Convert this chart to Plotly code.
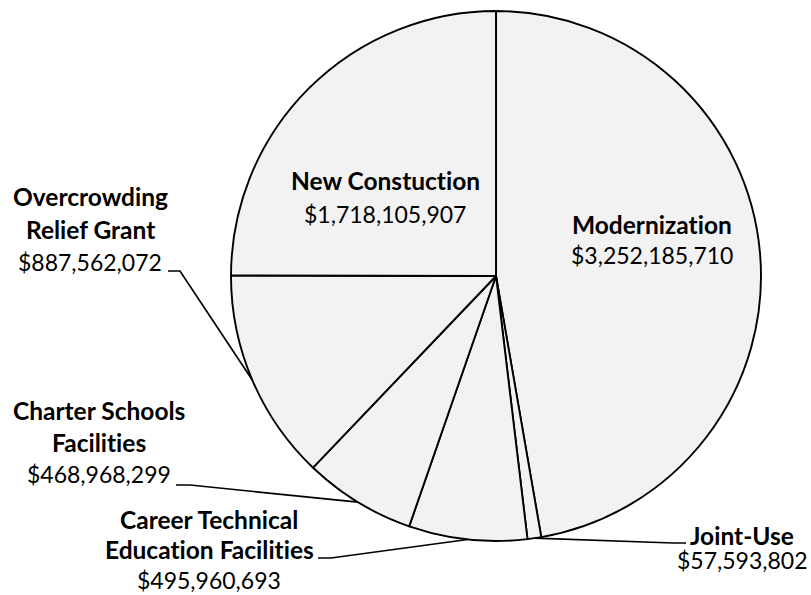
import math
import plotly.graph_objects as go

# ---- data ----
categories = ["Modernization", "Joint-Use", "Career Technical Education Facilities",
              "Charter Schools Facilities", "Overcrowding Relief Grant", "New Constuction"]
values = [3252185710, 57593802, 495960693, 468968299, 887562072, 1718105907]
value_labels = ["$3,252,185,710", "$57,593,802", "$495,960,693",
                "$468,968,299", "$887,562,072", "$1,718,105,907"]

W, H = 811, 595
CX, CY, R = 496, 276, 265  # pie geometry in window pixels

def px(x):
    return x / W

def py(y):
    return 1 - y / H

FONT = "Lato"
FS_B = 24.5
FS_R = 23

fig = go.Figure(go.Pie(
    labels=categories, values=values, sort=False, direction="clockwise", rotation=0,
    marker=dict(colors=["#f2f2f2"] * len(values), line=dict(color="black", width=1.9)),
    textinfo="none", hoverinfo="skip", showlegend=False,
    domain=dict(x=[px(CX - R), px(CX + R)], y=[py(CY + R), py(CY - R)]),
))

# mid-angle edge point of each slice (clockwise from 12 o'clock)
total = sum(values)
edge = []
cum = 0
for v in values:
    a = (cum + v / 2) / total * 2 * math.pi
    edge.append((CX + R * math.sin(a), CY - R * math.cos(a)))
    cum += v

ZW = "\u200c"  # prevents the 'ti' ligature

annotations = []
def label(lines, cx, baselines):
    for (txt, bold), b in zip(lines, baselines):
        annotations.append(dict(
            x=px(cx), y=py(b - 8), xref="paper", yref="paper",
            text=f"<b>{txt.replace('ti', 't' + ZW + 'i')}</b>" if bold else txt,
            showarrow=False, xanchor="center", yanchor="middle",
            font=dict(family=FONT, size=FS_B if bold else FS_R, color="black")))

label([(categories[0], True), (value_labels[0], False)], 652, [232, 263])
label([(categories[5], True), (value_labels[5], False)], 385, [188, 222])
label([("Overcrowding", True), ("Relief Grant", True), (value_labels[4], False)], 90, [205, 238, 270])
label([("Charter Schools", True), ("Facilities", True), (value_labels[3], False)], 99, [418, 450, 482])
label([("Career Technical", True), ("Education Facilities", True), (value_labels[2], False)], 209, [527, 557, 588])
label([(categories[1], True), (value_labels[1], False)], 742, [543, 568])

def leader(points):
    d = "M " + " L ".join(f"{px(x)},{py(y)}" for x, y in points)
    return dict(type="path", path=d, xref="paper", yref="paper",
                line=dict(color="black", width=1.7))

shapes = [
    leader([(168, 271), (180, 271), edge[4]]),
    leader([(176, 485), (190, 485), edge[3]]),
    leader([(318, 558), (331, 558), edge[2]]),
    leader([edge[1], (673, 543), (686, 543)]),
]

fig.update_layout(
    width=W, height=H, margin=dict(l=0, r=0, t=0, b=0),
    paper_bgcolor="white", plot_bgcolor="white",
    annotations=annotations, shapes=shapes,
)
fig.write_html(
    "out.html",
    config={"displayModeBar": False},
    post_script="document.body.style.margin='0';document.body.style.overflow='hidden';",
)
